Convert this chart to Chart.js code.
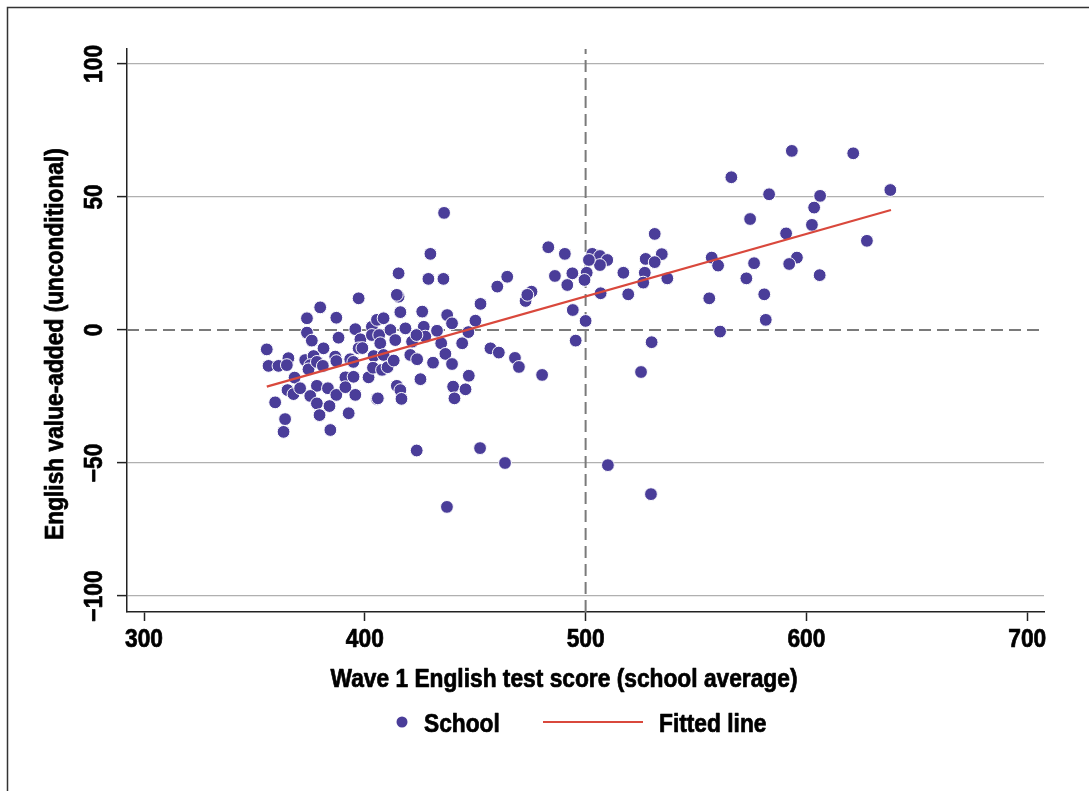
<!DOCTYPE html>
<html>
<head>
<meta charset="utf-8">
<script src="https://cdn.jsdelivr.net/npm/chart.js@4.4.1/dist/chart.umd.min.js"></script>
<style>
  html, body { margin: 0; padding: 0; background: #fff; }
  canvas { display: block; }
</style>
</head>
<body>
<canvas id="chart" width="1089" height="791"></canvas>
<script>
// school averages (x) and value-added (y)
const schoolX = [
  355.6, 356.4, 360.9, 365.4, 364.7, 359.4, 363.9, 363.2, 365.0, 367.7,
  368.2, 370.7, 373.8, 373.8, 376.0, 379.8, 387.1, 388.1, 381.3, 373.0,
  376.8, 375.3, 374.5, 378.3, 381.0, 378.3, 375.3, 378.3, 379.5, 384.0,
  383.3, 387.1, 384.4, 386.6, 387.1, 391.2, 391.2, 394.9, 392.7, 395.7,
  393.4, 394.8, 395.7, 397.2, 398.0, 397.2, 398.9, 401.7, 404.0, 403.7,
  405.5, 403.2, 405.5, 408.5, 403.2, 406.5, 407.0, 408.5, 407.8, 410.3,
  413.1, 411.6, 413.8, 415.3, 414.5, 416.1, 418.4, 420.6, 421.4, 423.7,
  425.2, 426.0, 426.7, 427.4, 423.4, 414.5, 416.1, 416.6, 405.9, 430.9,
  432.7, 434.6, 437.3, 439.5, 436.5, 439.5, 440.0, 440.6, 445.6, 447.1,
  444.1, 446.9, 450.1, 452.4, 456.9, 460.7, 423.5, 452.2,
  415.3, 429.7, 428.8, 435.6, 460.0, 435.9, 437.2, 463.5, 510.1, 529.6,
  525.1, 468.0, 469.8, 480.3,
  483.1, 490.6, 486.1, 494.0, 491.7, 464.5, 475.5, 472.8, 494.2, 500.0,
  495.5, 529.9, 560.9, 581.6, 580.9, 572.8, 576.3, 574.5, 566.0, 583.1,
  593.4, 621.2, 638.0, 606.2, 603.5, 602.5, 590.8, 595.7, 592.2, 627.4,
  606.0, 557.1, 560.0, 556.0, 531.3, 534.5, 527.2, 531.3, 526.8, 526.1,
  537.0, 517.1, 519.3, 506.8, 503.0, 506.5, 509.8, 506.5, 501.5, 500.5,
  499.5, 473.6
];
const schoolY = [
  -7.3, -13.5, -13.5, -10.6, -13.2, -27.2, -33.5, -38.3, -22.6, -24.1,
  -17.9, -21.9, 4.4, -1.0, -4.0, 8.5, 4.6, -2.9, -6.9, -11.3,
  -9.8, -13.2, -14.8, -12.0, -13.5, -21.0, -24.8, -27.6, -32.0, -28.6,
  -21.9, -24.4, -37.6, -10.0, -11.7, -17.8, -21.5, -17.6, -31.3, -24.4,
  -11.0, -12.0, 0.3, 11.9, -3.5, -6.9, -6.8, -17.8, -9.8, -14.2,
  -25.9, 1.2, 3.8, 4.4, -1.9, -1.9, -5.0, -9.4, -15.0, -14.0,
  -11.5, 0.0, -3.8, 12.5, 13.2, 6.7, 0.6, -9.4, -4.4, -11.0,
  -18.5, 6.9, 1.2, -2.5, -1.9, -21.0, -22.6, -25.9, -25.7, -12.3,
  -0.3, -5.0, 5.6, 2.5, -9.0, -12.8, -21.3, -25.7, -22.3, -17.2,
  -5.0, -0.8, 3.5, 9.8, -6.9, -8.5, -45.3, -44.4,
  21.3, 28.6, 19.2, 19.2, 16.3, 44.0, -66.5, -50.0, -50.8, -61.7,
  -15.8, -10.5, -13.9, -16.9,
  31.1, 28.6, 20.3, 21.3, 16.9, 20.0, 14.4, 10.9, 7.5, 3.4,
  -4.0, -4.6, -0.6, 3.8, 13.4, 19.4, 25.1, 41.7, 57.4, 51.0,
  67.3, 66.4, 52.6, 50.4, 46.0, 39.5, 36.3, 27.2, 24.8, 33.5,
  20.6, 27.2, 24.2, 11.9, 36.1, 28.5, 26.7, 25.5, 21.5, 17.8,
  19.4, 21.5, 13.4, 13.8, 28.6, 27.8, 26.3, 24.4, 26.3, 21.5,
  18.8, 13.2
];

// fitted line end points
const fitX = [355.6, 638.3];
const fitY = [-21.3, 45.1];

// reference lines and axis ranges
const refX = 500;
const refY = 0;
const xRange = [292.3, 707.6];
const yRange = [-106, 105.6];

const xTitle = "Wave 1 English test score (school average)";
const yTitle = "English value-added (unconditional)";
const legendLabels = ["School", "Fitted line"];

const purple = "#4a3d99";
const red = "#d9483c";
const FONT = '"Liberation Sans", Arial, sans-serif';

function fmt(v) {
  return v < 0 ? "\u2212" + Math.abs(v) : String(v);
}

const framePlugin = {
  id: "frame",
  beforeDraw(chart) {
    const ctx = chart.ctx;
    ctx.save();
    ctx.fillStyle = "#fff";
    ctx.fillRect(0, 0, chart.width, chart.height);
    ctx.strokeStyle = "#333";
    ctx.lineWidth = 1.5;
    ctx.beginPath();
    ctx.moveTo(7.5, chart.height);
    ctx.lineTo(7.5, 7.5);
    ctx.lineTo(chart.width, 7.5);
    ctx.stroke();
    ctx.restore();
  }
};

// texts are squeezed sideways (and stroked a little) so the plain bold face reads like a heavy narrow one
const textPlugin = {
  id: "texts",
  afterDraw(chart) {
    const ctx = chart.ctx;
    const xs = chart.scales.x;
    const ys = chart.scales.y;
    ctx.save();
    ctx.font = "bold 25px " + FONT;
    const sx = 467 / ctx.measureText(xTitle).width;
    ctx.fillStyle = "#000";
    ctx.strokeStyle = "#000";
    ctx.lineJoin = "round";

    function put(txt, x, y, rot, align) {
      ctx.save();
      ctx.translate(x, y);
      if (rot) ctx.rotate(rot);
      ctx.scale(sx, 1);
      ctx.textAlign = align || "center";
      ctx.textBaseline = "alphabetic";
      ctx.lineWidth = 0.7;
      ctx.fillText(txt, 0, 0);
      ctx.strokeText(txt, 0, 0);
      ctx.restore();
    }

    xs.ticks.forEach(t => put(fmt(t.value), xs.getPixelForValue(t.value), 647));
    ys.ticks.forEach(t => put(fmt(t.value), 102, ys.getPixelForValue(t.value), -Math.PI / 2));
    put(xTitle, 564, 687);
    put(yTitle, 63, 344, -Math.PI / 2);

    // legend
    ctx.fillStyle = purple;
    ctx.beginPath();
    ctx.arc(402, 722, 5.5, 0, Math.PI * 2);
    ctx.fill();
    ctx.strokeStyle = red;
    ctx.lineWidth = 2.2;
    ctx.beginPath();
    ctx.moveTo(543, 722);
    ctx.lineTo(643, 722);
    ctx.stroke();
    ctx.fillStyle = "#000";
    ctx.strokeStyle = "#000";
    put(legendLabels[0], 424, 732, 0, "left");
    put(legendLabels[1], 659, 732, 0, "left");
    ctx.restore();
  }
};

const ctx = document.getElementById("chart").getContext("2d");
new Chart(ctx, {
  type: "scatter",
  data: {
    datasets: [
      {
        type: "line",
        label: legendLabels[1],
        data: fitX.map((x, i) => ({ x: x, y: fitY[i] })),
        borderColor: red,
        borderWidth: 2.2,
        pointRadius: 0,
        order: 0
      },
      {
        label: legendLabels[0],
        data: schoolX.map((x, i) => ({ x: x, y: schoolY[i] })),
        backgroundColor: purple,
        borderColor: "#fff",
        borderWidth: 1,
        pointRadius: 6.4,
        order: 1
      },
      {
        type: "line",
        data: [{ x: refX, y: yRange[0] }, { x: refX, y: yRange[1] }],
        borderColor: "#7a7a7a",
        borderWidth: 2,
        borderDash: [12, 6],
        pointRadius: 0,
        order: 2
      },
      {
        type: "line",
        data: [{ x: xRange[0], y: refY }, { x: xRange[1], y: refY }],
        borderColor: "#7a7a7a",
        borderWidth: 2,
        borderDash: [12, 6],
        pointRadius: 0,
        order: 2
      }
    ]
  },
  options: {
    responsive: false,
    animation: false,
    events: [],
    layout: { autoPadding: false, padding: { top: 49, right: 45, bottom: 159, left: 0 } },
    plugins: { legend: { display: false }, tooltip: { enabled: false } },
    scales: {
      x: {
        type: "linear",
        min: xRange[0],
        max: xRange[1],
        afterFit: s => { s.height = 20; },
        ticks: { stepSize: 100, includeBounds: false, display: false },
        grid: { drawOnChartArea: false, tickLength: 9, tickColor: "#222", tickWidth: 1.5 },
        border: { color: "#222", width: 1.5 }
      },
      y: {
        type: "linear",
        min: yRange[0],
        max: yRange[1],
        afterFit: s => { s.width = 127; },
        ticks: { stepSize: 50, includeBounds: false, display: false },
        grid: {
          color: c => (c.tick && c.tick.value === 0 ? "rgba(0,0,0,0)" : "#b0b0b0"),
          lineWidth: 1.2,
          tickLength: 10,
          tickColor: "#222",
          tickWidth: 1.5
        },
        border: { color: "#222", width: 1.5 }
      }
    }
  },
  plugins: [framePlugin, textPlugin]
});
</script>
</body>
</html>
